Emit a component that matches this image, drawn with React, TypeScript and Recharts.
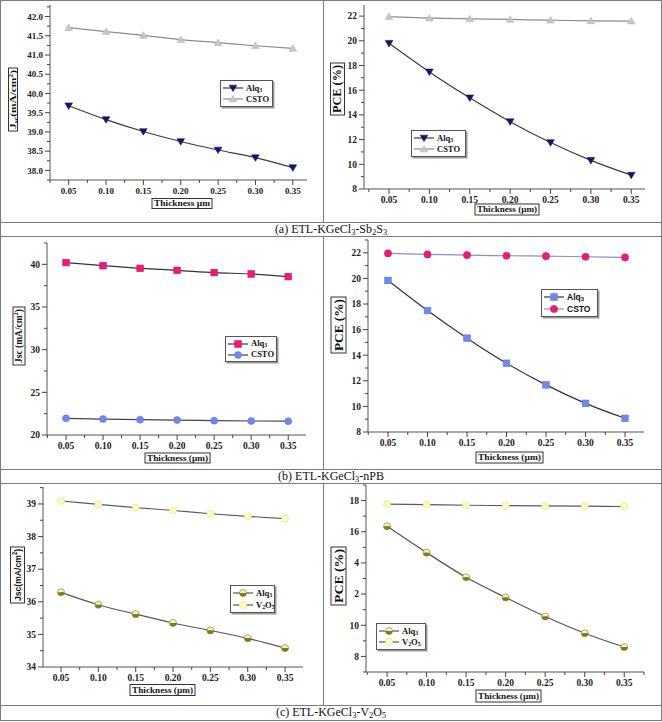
import React from "react";
import { LineChart, Line, XAxis, YAxis, Legend, Label } from "recharts";

const thickness = [0.05, 0.1, 0.15, 0.2, 0.25, 0.3, 0.35];
const thicknessLabels = ["0.05", "0.10", "0.15", "0.20", "0.25", "0.30", "0.35"];

// (a) ETL-KGeCl3-Sb2S3
const sbJscAlq3 = [39.68, 39.32, 39.01, 38.75, 38.53, 38.33, 38.07];
const sbJscCsto = [41.71, 41.61, 41.51, 41.4, 41.32, 41.24, 41.17];
const sbPceAlq3 = [19.8, 17.48, 15.38, 13.45, 11.76, 10.32, 9.12];
const sbPceCsto = [21.95, 21.84, 21.78, 21.73, 21.67, 21.62, 21.6];

// (b) ETL-KGeCl3-nPB
const npbJscAlq3 = [40.2, 39.84, 39.53, 39.3, 39.03, 38.87, 38.56];
const npbJscCsto = [21.95, 21.87, 21.8, 21.75, 21.68, 21.64, 21.62];
const npbPceAlq3 = [19.84, 17.49, 15.33, 13.37, 11.68, 10.24, 9.07];
const npbPceCsto = [21.95, 21.87, 21.82, 21.77, 21.74, 21.69, 21.64];

// (c) ETL-KGeCl3-V2O5
const vJscAlq3 = [36.29, 35.91, 35.62, 35.35, 35.12, 34.88, 34.58];
const vJscV2o5 = [39.09, 38.99, 38.89, 38.8, 38.7, 38.62, 38.55];
const vPceAlq3 = [16.35, 14.66, 13.08, 11.78, 10.56, 9.49, 8.6];
const vPceV2o5 = [17.77, 17.74, 17.7, 17.68, 17.66, 17.64, 17.62];

// tick values and their labels
const jscTicksA = [38, 38.5, 39, 39.5, 40, 40.5, 41, 41.5, 42];
const jscLabelsA = ["38.0", "38.5", "39.0", "39.5", "40.0", "40.5", "41.0", "41.5", "42.0"];
const pceTicks = [8, 10, 12, 14, 16, 18, 20, 22];
const pceLabels = ["8", "10", "12", "14", "16", "18", "20", "22"];
const jscTicksB = [20, 25, 30, 35, 40];
const jscLabelsB = ["20", "25", "30", "35", "40"];
const jscTicksC = [34, 35, 36, 37, 38, 39];
const jscLabelsC = ["34", "35", "36", "37", "38", "39"];
const pceTicksC = [8, 10, 12, 14, 16, 18];
const pceLabelsC = ["8", "10", "2", "4", "16", "18"];

const SERIF = '"Liberation Serif", "Times New Roman", serif';
const SANS = '"Liberation Sans", Arial, sans-serif';

type Mk = { kind: string; fill: string; stroke: string; size: number; fill2?: string };
type Series = { key: string; name: string; values: number[]; line: string; marker: Mk };
type Part = [string, string];

const Marker = ({ m, cx, cy }: { m: Mk; cx: number; cy: number }) => {
  const r = m.size;
  if (cx == null || cy == null) return null;
  if (m.kind === "triDown")
    return <path d={`M${cx - r},${cy - r * 0.75}L${cx + r},${cy - r * 0.75}L${cx},${cy + r * 0.95}Z`} fill={m.fill} stroke={m.stroke} strokeWidth={0.6} />;
  if (m.kind === "triUp")
    return <path d={`M${cx - r},${cy + r * 0.75}L${cx + r},${cy + r * 0.75}L${cx},${cy - r * 0.95}Z`} fill={m.fill} stroke={m.stroke} strokeWidth={0.6} />;
  if (m.kind === "square")
    return <rect x={cx - r} y={cy - r} width={r * 2} height={r * 2} fill={m.fill} stroke={m.stroke} strokeWidth={0.6} />;
  if (m.kind === "half")
    return (
      <g>
        <path d={`M${cx - r},${cy}A${r},${r} 0 0 1 ${cx + r},${cy}Z`} fill={m.fill} />
        <path d={`M${cx - r},${cy}A${r},${r} 0 0 0 ${cx + r},${cy}Z`} fill={m.fill2} />
        <circle cx={cx} cy={cy} r={r} fill="none" stroke={m.stroke} strokeWidth={0.7} />
      </g>
    );
  return <circle cx={cx} cy={cy} r={r} fill={m.fill} stroke={m.stroke} strokeWidth={0.6} />;
};

const nameParts = (name: string) =>
  name.split(/(\d+)/).map((s, i) =>
    /\d/.test(s) ? (
      <sub key={i} style={{ fontSize: "70%", verticalAlign: "-0.25em", lineHeight: 0 }}>{s}</sub>
    ) : (
      <span key={i}>{s}</span>
    )
  );

const LegendBox = ({ series, w, h, font, fs }: any) => (
  <div
    style={{
      width: w,
      height: h,
      boxSizing: "border-box",
      border: "1px solid #555",
      boxShadow: "1.5px 1.5px 0 #9a9a9a",
      background: "#fff",
      display: "flex",
      flexDirection: "column",
      justifyContent: "center",
      padding: "0 2px",
      fontFamily: font,
      fontWeight: "bold",
      fontSize: fs,
      lineHeight: 1,
      color: "#111",
    }}
  >
    {series.map((s: Series) => (
      <div key={s.key} style={{ display: "flex", alignItems: "center", height: (h - 4) / 2 }}>
        <svg width={20} height={10} style={{ flex: "none" }}>
          <line x1={0} x2={20} y1={5} y2={5} stroke={s.line} strokeWidth={1.2} />
          <Marker m={s.marker} cx={10} cy={5} />
        </svg>
        <span style={{ marginLeft: 3 }}>{nameParts(s.name)}</span>
      </div>
    ))}
  </div>
);

const renderParts = (parts: Part[], fs: number) => {
  const out: any[] = [];
  let shift = 0;
  parts.forEach(([t, k], i) => {
    const target = k === "sub" ? fs * 0.3 : k === "sup" ? -fs * 0.4 : 0;
    out.push(
      <tspan key={i} dy={target - shift} fontSize={k === "n" ? fs : fs * 0.68}>
        {t}
      </tspan>
    );
    shift = target;
  });
  return out;
};

const BoxLabel = ({ spec }: any) => {
  const { cx, cy, w, h, parts, fs, family, rotate } = spec;
  return (
    <g transform={`translate(${cx},${cy}) rotate(${rotate ? -90 : 0})`}>
      <rect x={-w / 2} y={-h / 2} width={w} height={h} fill="#fff" stroke="#333" strokeWidth={1} />
      <text
        x={0}
        y={fs * 0.34}
        textAnchor="middle"
        fontFamily={family}
        fontWeight="bold"
        fontSize={fs}
        fill="#111"
        textLength={w - 4}
        lengthAdjust="spacingAndGlyphs"
      >
        {renderParts(parts, fs)}
      </text>
    </g>
  );
};

const YTick = (props: any) => {
  const { x, y, payload, majors, labels, fs } = props;
  const idx = majors.findIndex((m: number) => Math.abs(m - payload.value) < 1e-6);
  if (idx < 0) return <line x1={x - 3} x2={x} y1={y} y2={y} stroke="#444" />;
  return (
    <g>
      <line x1={x - 5} x2={x} y1={y} y2={y} stroke="#444" />
      <text x={x - 7} y={y} dy="0.35em" textAnchor="end" fontFamily={SERIF} fontWeight="bold" fontSize={fs} fill="#222">
        {labels[idx]}
      </text>
    </g>
  );
};

const XTick = (props: any) => {
  const { x, y, payload, fs } = props;
  const idx = thickness.findIndex((m) => Math.abs(m - payload.value) < 1e-6);
  if (idx < 0) return <line x1={x} x2={x} y1={y} y2={y + 3} stroke="#444" />;
  return (
    <g>
      <line x1={x} x2={x} y1={y} y2={y + 5} stroke="#444" />
      <text x={x} y={y + 7 + fs * 0.75} textAnchor="middle" fontFamily={SERIF} fontWeight="bold" fontSize={fs} fill="#222">
        {thicknessLabels[idx]}
      </text>
    </g>
  );
};

const minors = (majors: number[], lo: number, hi: number) => {
  const step = majors[1] - majors[0];
  const out: number[] = [];
  for (let i = -1; i < majors.length; i++) {
    const v = majors[0] + step * (i + 0.5);
    if (v >= lo - 1e-9 && v <= hi + 1e-9) out.push(+v.toFixed(4));
  }
  return out;
};

const Panel = (p: any) => {
  const data = thickness.map((t, i) => {
    const row: any = { t };
    p.series.forEach((s: Series) => (row[s.key] = s.values[i]));
    return row;
  });
  const yAll = [...p.yTicks, ...minors(p.yTicks, p.yDomain[0], p.yDomain[1])].sort((a, b) => a - b);
  const xAll = [...thickness, ...minors(thickness, p.xDomain[0], p.xDomain[1])].sort((a, b) => a - b);
  return (
    <div style={{ position: "absolute", left: p.left, top: p.top }}>
      <LineChart
        width={p.width}
        height={p.height}
        data={data}
        margin={{ top: p.plot[1], right: p.width - p.plot[2], left: 0, bottom: 0 }}
      >
        <XAxis
          dataKey="t"
          type="number"
          domain={p.xDomain}
          ticks={xAll}
          interval={0}
          height={p.height - p.plot[3]}
          tickSize={0}
          tickMargin={0}
          tickLine={false}
          axisLine={{ stroke: "#555" }}
          tick={(tp: any) => <XTick {...tp} fs={p.xfs} />}
        >
          <Label content={() => <BoxLabel spec={p.xLabel} />} />
        </XAxis>
        <YAxis
          type="number"
          domain={p.yDomain}
          ticks={yAll}
          interval={0}
          width={p.plot[0]}
          tickSize={0}
          tickMargin={0}
          tickLine={false}
          axisLine={{ stroke: "#555" }}
          tick={(tp: any) => <YTick {...tp} majors={p.yTicks} labels={p.yLabels} fs={p.yfs} />}
        >
          <Label content={() => <BoxLabel spec={p.yLabel} />} />
        </YAxis>
        <XAxis xAxisId="top" orientation="top" type="number" domain={p.xDomain} height={0} tick={false} tickLine={false} axisLine={{ stroke: "#999" }} />
        <YAxis yAxisId="right" orientation="right" type="number" domain={p.yDomain} width={0} tick={false} tickLine={false} axisLine={{ stroke: "#999" }} />
        <Legend
          layout="vertical"
          align="center"
          verticalAlign="middle"
          wrapperStyle={{ left: p.legend[0], top: p.legend[1], width: p.legend[2], height: p.legend[3] }}
          content={() => <LegendBox series={p.series} w={p.legend[2]} h={p.legend[3]} font={p.legendFont} fs={p.legendFs} />}
        />
        {p.series.map((s: Series) => (
          <Line
            key={s.key}
            dataKey={s.key}
            name={s.name}
            type="monotone"
            stroke={s.line}
            strokeWidth={1.2}
            isAnimationActive={false}
            dot={(d: any) => <Marker key={`${s.key}-${d.index}`} m={s.marker} cx={d.cx} cy={d.cy} />}
          />
        ))}
      </LineChart>
    </div>
  );
};

const jscA: Part[] = [["J", "n"], ["sc", "sub"], ["(mA/cm", "n"], ["2", "sup"], [")", "n"]];
const jscB: Part[] = [["Jsc (mA/cm", "n"], ["2", "sup"], [")", "n"]];
const jscC: Part[] = [["Jsc(mA/cm", "n"], ["2", "sup"], [")", "n"]];
const pceY: Part[] = [["PCE (%)", "n"]];
const thickA: Part[] = [["Thickness  \u00b5m", "n"]];
const thickP: Part[] = [["Thickness (\u00b5m)", "n"]];

const navyTri: Mk = { kind: "triDown", fill: "#0b1a70", stroke: "#0b1a70", size: 3.8 };
const grayTri: Mk = { kind: "triUp", fill: "#c6c6c6", stroke: "#b8b8b8", size: 3.8 };
const pinkSq: Mk = { kind: "square", fill: "#ef1a78", stroke: "#d8106a", size: 3.3 };
const blueCirc: Mk = { kind: "circle", fill: "#6d88f2", stroke: "#5f7ae6", size: 3.5 };
const blueSq: Mk = { kind: "square", fill: "#6b8af0", stroke: "#5a78e0", size: 3.3 };
const pinkCirc: Mk = { kind: "circle", fill: "#ef1a78", stroke: "#d8106a", size: 3.6 };
const oliveHalf: Mk = { kind: "half", fill: "#f6f1c8", fill2: "#7b7b10", stroke: "#8c8c22", size: 3.5 };
const paleCirc: Mk = { kind: "circle", fill: "#fffcb8", stroke: "#e4dd8a", size: 3.5 };

const Caption = ({ top, children }: any) => (
  <div
    style={{
      position: "absolute",
      left: 0,
      width: 662,
      top,
      height: 14,
      lineHeight: "14px",
      textAlign: "center",
      fontFamily: SERIF,
      fontSize: 12,
      color: "#111",
    }}
  >
    {children}
  </div>
);

const sub = (t: string) => <sub style={{ fontSize: "70%", verticalAlign: "-0.2em", lineHeight: 0 }}>{t}</sub>;

const hLine = (y: number) => <div style={{ position: "absolute", left: 0, top: y, width: 662, height: 1, background: "#7a7a7a" }} />;
const vLine = (y0: number, y1: number) => (
  <div style={{ position: "absolute", left: 323, top: y0, width: 1, height: y1 - y0, background: "#7a7a7a" }} />
);

export default function App() {
  return (
    <div style={{ position: "absolute", left: 0, top: 0, width: 662, height: 722, background: "#fff", overflow: "hidden" }}>
      <div style={{ position: "absolute", left: 0, top: 0, width: 662, height: 721, boxSizing: "border-box", border: "1px solid #7a7a7a" }} />
      {hLine(222)}
      {hLine(236)}
      {hLine(469)}
      {hLine(483)}
      {hLine(705)}
      {vLine(0, 222)}
      {vLine(236, 469)}
      {vLine(483, 705)}

      <Panel
        left={0} top={0} width={323} height={222}
        plot={[50, 5, 307, 180]}
        xDomain={[0.025, 0.369]} yDomain={[37.75, 42.3]}
        yTicks={jscTicksA} yLabels={jscLabelsA} yfs={9} xfs={9}
        yLabel={{ cx: 13, cy: 99.5, w: 63, h: 9, parts: jscA, fs: 8, family: SERIF, rotate: true }}
        xLabel={{ cx: 182, cy: 203.5, w: 60, h: 10, parts: thickA, fs: 8.5, family: SERIF }}
        legend={[220, 80, 53, 27]} legendFont={SERIF} legendFs={8.5}
        series={[
          { key: "alq3", name: "Alq3", values: sbJscAlq3, line: "#3c3c3c", marker: navyTri },
          { key: "csto", name: "CSTO", values: sbJscCsto, line: "#8c8c8c", marker: grayTri },
        ]}
      />
      <Panel
        left={324} top={0} width={337} height={222}
        plot={[40, 5, 321, 189]}
        xDomain={[0.019, 0.367]} yDomain={[8, 22.9]}
        yTicks={pceTicks} yLabels={pceLabels} yfs={9.5} xfs={9.5}
        yLabel={{ cx: 13.5, cy: 89, w: 52, h: 14, parts: pceY, fs: 11.5, family: SERIF, rotate: true }}
        xLabel={{ cx: 183, cy: 209.5, w: 64, h: 11, parts: thickP, fs: 8.5, family: SERIF }}
        legend={[87, 130, 55, 27]} legendFont={SERIF} legendFs={8.5}
        series={[
          { key: "alq3", name: "Alq3", values: sbPceAlq3, line: "#3c3c3c", marker: navyTri },
          { key: "csto", name: "CSTO", values: sbPceCsto, line: "#8c8c8c", marker: grayTri },
        ]}
      />
      <Caption top={222}>(a) ETL-KGeCl{sub("3")}-Sb{sub("2")}S{sub("3")}</Caption>

      <Panel
        left={0} top={236} width={323} height={233}
        plot={[47, 7, 306, 199]}
        xDomain={[0.0243, 0.374]} yDomain={[20, 42.5]}
        yTicks={jscTicksB} yLabels={jscLabelsB} yfs={9.5} xfs={9.5}
        yLabel={{ cx: 19, cy: 100, w: 58, h: 12, parts: jscB, fs: 9.5, family: SERIF, rotate: true }}
        xLabel={{ cx: 177.5, cy: 222, w: 65, h: 10, parts: thickP, fs: 8.5, family: SERIF }}
        legend={[225, 100, 52, 26]} legendFont={SERIF} legendFs={8.5}
        series={[
          { key: "alq3", name: "Alq3", values: npbJscAlq3, line: "#333333", marker: pinkSq },
          { key: "csto", name: "CSTO", values: npbJscCsto, line: "#444444", marker: blueCirc },
        ]}
      />
      <Panel
        left={324} top={236} width={337} height={233}
        plot={[44, 4, 320, 196]}
        xDomain={[0.0247, 0.374]} yDomain={[8, 23]}
        yTicks={pceTicks} yLabels={pceLabels} yfs={9.5} xfs={9.5}
        yLabel={{ cx: 14.5, cy: 89, w: 56, h: 15, parts: pceY, fs: 12, family: SERIF, rotate: true }}
        xLabel={{ cx: 185.5, cy: 221.5, w: 67, h: 11, parts: thickP, fs: 8.5, family: SERIF }}
        legend={[217, 53, 57, 28]} legendFont={SANS} legendFs={8.5}
        series={[
          { key: "alq3", name: "Alq3", values: npbPceAlq3, line: "#333333", marker: blueSq },
          { key: "csto", name: "CSTO", values: npbPceCsto, line: "#7f94c8", marker: pinkCirc },
        ]}
      />
      <Caption top={469}>(b) ETL-KGeCl{sub("3")}-nPB</Caption>

      <Panel
        left={0} top={483} width={323} height={222}
        plot={[43, 4, 303, 184]}
        xDomain={[0.0259, 0.374]} yDomain={[34, 39.52]}
        yTicks={jscTicksC} yLabels={jscLabelsC} yfs={9.5} xfs={9.5}
        yLabel={{ cx: 17.5, cy: 92, w: 56, h: 14, parts: jscC, fs: 9.5, family: SANS, rotate: true }}
        xLabel={{ cx: 162.5, cy: 207, w: 65, h: 11, parts: thickP, fs: 8.5, family: SERIF }}
        legend={[230, 102, 45, 28]} legendFont={SERIF} legendFs={8.5}
        series={[
          { key: "alq3", name: "Alq3", values: vJscAlq3, line: "#555555", marker: oliveHalf },
          { key: "v2o5", name: "V2O5", values: vJscV2o5, line: "#5a5a5a", marker: paleCirc },
        ]}
      />
      <Panel
        left={324} top={483} width={337} height={222}
        plot={[42, 2, 320, 189]}
        xDomain={[0.0234, 0.375]} yDomain={[7, 19]}
        yTicks={pceTicksC} yLabels={pceLabelsC} yfs={9.5} xfs={9.5}
        yLabel={{ cx: 14.5, cy: 93, w: 58, h: 15, parts: pceY, fs: 12, family: SERIF, rotate: true }}
        xLabel={{ cx: 184.5, cy: 213, w: 65, h: 12, parts: thickP, fs: 8.5, family: SERIF }}
        legend={[52, 140, 50, 27]} legendFont={SERIF} legendFs={8.5}
        series={[
          { key: "alq3", name: "Alq3", values: vPceAlq3, line: "#555555", marker: oliveHalf },
          { key: "v2o5", name: "V2O5", values: vPceV2o5, line: "#5a5a5a", marker: paleCirc },
        ]}
      />
      <Caption top={705}>(c) ETL-KGeCl{sub("3")}-V{sub("2")}O{sub("5")}</Caption>
    </div>
  );
}
